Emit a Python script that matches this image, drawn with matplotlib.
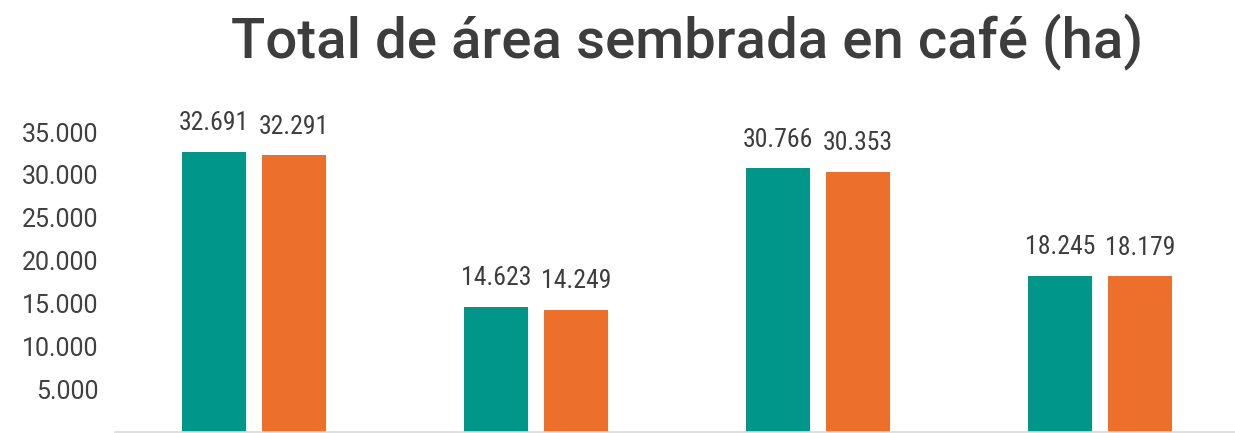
import matplotlib
matplotlib.use("Agg")
import matplotlib.pyplot as plt
from matplotlib import font_manager as fm
import numpy as np

# ---- data ----
categories = ["A", "B", "C", "D"]
serie_1 = [32691, 14623, 30766, 18245]
serie_2 = [32291, 14249, 30353, 18179]
yticks = [5000, 10000, 15000, 20000, 25000, 30000, 35000]
title = "Total de área sembrada en café (ha)"

TEAL = "#00968A"
ORANGE = "#EC702C"
TXT = "#3d3d3d"

names = {f.name for f in fm.fontManager.ttflist}
cond_family = None
cond_stretch = "normal"
for n in ["Roboto Condensed", "Liberation Sans Narrow", "Open Sans Condensed", "Noto Sans Condensed"]:
    if n in names:
        cond_family = n
        break
if cond_family is None:
    conds = [f for f in fm.fontManager.ttflist if f.stretch in ("condensed", "semi-condensed", "extra-condensed")]
    pref = [f for f in conds if f.name in ("Roboto", "Open Sans", "Noto Sans", "DejaVu Sans")]
    if pref:
        cond_family = pref[0].name
        cond_stretch = pref[0].stretch
    else:
        cond_family = "Roboto"

plt.rcParams["font.family"] = ["Roboto", "DejaVu Sans"]

W, H = 1235, 433
fig = plt.figure(figsize=(W / 100, H / 100), dpi=100)
ax = fig.add_axes([115 / W, 1 / H, 1 - 115 / W, 332 / H])

x = np.arange(len(categories))
bw = 0.227
off = 0.142
b1 = ax.bar(x - off, serie_1, width=bw, color=TEAL)
b2 = ax.bar(x + off, serie_2, width=bw, color=ORANGE)

def fmt(v):
    return f"{v:,}".replace(",", ".")

for bars, vals in ((b1, serie_1), (b2, serie_2)):
    for r, v in zip(bars, vals):
        ax.annotate(fmt(v), (r.get_x() + r.get_width() / 2, v),
                    xytext=(0, 12), textcoords="offset points",
                    ha="center", va="bottom", fontsize=18.5,
                    family=cond_family, fontstretch=cond_stretch, color=TXT)

ax.set_xlim(-0.493, 3.479)
ax.set_ylim(0, 38753)
ax.set_yticks(yticks)
ax.set_yticklabels([fmt(v) for v in yticks], fontsize=18, color="#404040")
ax.tick_params(axis="y", length=0, pad=12)
ax.set_xticks([])
for s in ("top", "right", "left"):
    ax.spines[s].set_visible(False)
ax.spines["bottom"].set_color("#d9d9d9")
ax.spines["bottom"].set_linewidth(1.2)

fig.text(687 / W, 1 - 42 / H, title, ha="center", va="center",
         fontsize=40.5, fontweight="medium", color=TXT)

fig.savefig("out.png", dpi=100)
